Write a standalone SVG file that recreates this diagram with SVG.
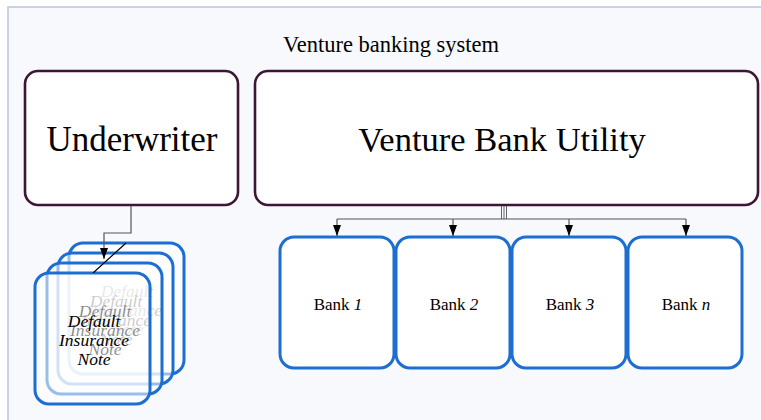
<svg xmlns="http://www.w3.org/2000/svg" width="761" height="420" viewBox="0 0 761 420">
<defs>
<style>
.bg{fill:#f8f9fd;stroke:#b9c5dc;stroke-width:1.5}
.main{fill:#ffffff;stroke:#3c1632;stroke-width:2.6}
.bank{fill:#ffffff;stroke:#1c6fd1;stroke-width:3}
.note{fill:#ffffff;fill-opacity:0.55;stroke:#1c6fd1;stroke-width:3}
.t{font-family:"Liberation Serif","Times New Roman",serif;fill:#000;text-anchor:middle}
.ti{font-family:"Liberation Serif","Times New Roman",serif;font-style:italic;font-size:17.5px;fill:#000;text-anchor:middle}
.c{fill:none;stroke:#555;stroke-width:1.2}
.c3{fill:none;stroke:#555;stroke-width:0.9}
</style>
<marker id="ad" markerWidth="11" markerHeight="8" refX="11" refY="4" orient="auto" markerUnits="userSpaceOnUse" viewBox="0 0 11 8">
<path d="M0,0 L11,4 L0,8 Z" fill="#000"/>
</marker>
</defs>
<rect class="bg" x="8" y="7" width="770" height="430"/>
<text class="t" x="391" y="52" font-size="22.5">Venture banking system</text>

<g id="underwriter">
<rect class="main" x="25" y="71" width="213" height="134" rx="13"/>
<text class="t" x="132" y="151" font-size="35">Underwriter</text>
</g>

<g id="utility">
<rect class="main" x="255" y="71" width="503" height="134" rx="13"/>
<text class="t" x="502" y="151" font-size="34.5">Venture Bank Utility</text>
</g>

<g id="bank1">
<rect class="bank" x="280" y="237" width="114" height="131" rx="14"/>
<text class="t" x="338" y="310" font-size="17">Bank <tspan font-style="italic">1</tspan></text>
</g>
<g id="bank2">
<rect class="bank" x="396" y="237" width="114" height="131" rx="14"/>
<text class="t" x="454" y="310" font-size="17">Bank <tspan font-style="italic">2</tspan></text>
</g>
<g id="bank3">
<rect class="bank" x="512" y="237" width="114" height="131" rx="14"/>
<text class="t" x="570" y="310" font-size="17">Bank <tspan font-style="italic">3</tspan></text>
</g>
<g id="bankn">
<rect class="bank" x="628" y="237" width="114" height="131" rx="14"/>
<text class="t" x="686" y="310" font-size="17">Bank <tspan font-style="italic">n</tspan></text>
</g>

<g id="notes">
<g id="note4">
<rect class="note" x="69" y="243" width="115" height="131" rx="14"/>
<text class="ti" x="127" y="297">Default</text>
<text class="ti" x="127" y="316">Insurance</text>
<text class="ti" x="127" y="335">Note</text>
</g>
<g id="note3">
<rect class="note" x="58" y="253" width="115" height="131" rx="14"/>
<text class="ti" x="116" y="307">Default</text>
<text class="ti" x="116" y="326">Insurance</text>
<text class="ti" x="116" y="345">Note</text>
</g>
<g id="note2">
<rect class="note" x="47" y="263" width="115" height="131" rx="14"/>
<text class="ti" x="105" y="317">Default</text>
<text class="ti" x="105" y="336">Insurance</text>
<text class="ti" x="105" y="355">Note</text>
</g>
<g id="note1">
<rect class="note" x="35" y="273" width="115" height="131" rx="14"/>
<text class="ti" x="94" y="327">Default</text>
<text class="ti" x="94" y="346">Insurance</text>
<text class="ti" x="94" y="365">Note</text>
</g>
</g>

<g id="connectors">
<path class="c" d="M131,206 V233 H104 V259" marker-end="url(#ad)"/>
<line x1="126" y1="243" x2="93" y2="273" stroke="#000" stroke-width="1.2"/>
<path class="c3" d="M501.5,206 V219 M504,206 V219 M506.5,206 V219"/>
<path class="c" d="M337,219 H686"/>
<path class="c" d="M337,219 V236" marker-end="url(#ad)"/>
<path class="c" d="M453,219 V236" marker-end="url(#ad)"/>
<path class="c" d="M569,219 V236" marker-end="url(#ad)"/>
<path class="c" d="M686,219 V236" marker-end="url(#ad)"/>
</g>
</svg>
